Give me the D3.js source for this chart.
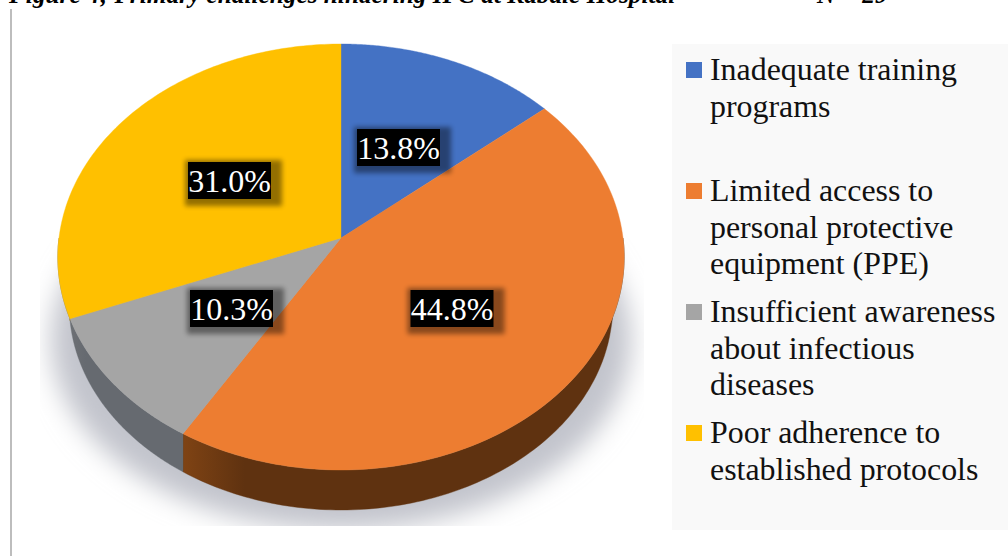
<!DOCTYPE html>
<html>
<head>
<meta charset="utf-8">
<script src="https://cdn.jsdelivr.net/npm/d3@7/dist/d3.min.js"></script>
<style>
html,body{margin:0;padding:0;background:#fff;overflow:hidden}
svg{display:block}
text{font-family:"Liberation Serif",serif}
</style>
</head>
<body>
<svg id="chart" width="1008" height="556"></svg>
<script>
// Share of respondents per challenge, clockwise from twelve o'clock
const categories = [
  ["Inadequate training", "programs"],
  ["Limited access to", "personal protective", "equipment (PPE)"],
  ["Insufficient awareness", "about infectious", "diseases"],
  ["Poor adherence to", "established protocols"]
];
const values = [13.8, 44.8, 10.3, 31.0];
const labels = ["13.8%", "44.8%", "10.3%", "31.0%"];
const topColors = ["#4472c4", "#ed7d31", "#a5a5a5", "#ffc000"];
const sideColors = [["#2a4478", "#2a4478"], ["#7f4314", "#5f3210"], ["#6d7075", "#666a70"], ["#8f7a10", "#9a7400"]];
const figureTitle = "Figure 4; Primary challenges hindering IPC at Kabale Hospital";
const sampleNote = "N = 29";

const svg = d3.select("#chart");
const defs = svg.append("defs");

// Perspective view of the pie disc: u runs right, v runs towards the back
const apex = {x: 341, y: 238};
const spreadX = 282, spreadY = 211.3, foreshorten = 0.0892;
function project(angle) {
  const u = Math.sin(angle), v = Math.cos(angle);
  const w = 1 + foreshorten * v;
  return [apex.x + spreadX * u / w, apex.y - spreadY * v / w];
}
// Lower rim of the disc, seen as a slightly smaller ellipse further down
const lowerRim = {cx: 341, cy: 305.5, rx: 271.7, ry: 204.5};
function lowerRimY(x, fallback) {
  const t = (x - lowerRim.cx) / lowerRim.rx;
  if (Math.abs(t) >= 1) return fallback;
  return Math.max(fallback, lowerRim.cy + lowerRim.ry * Math.sqrt(1 - t * t));
}
const sweep = (a0, a1) => d3.range(0, 121).map(i => a0 + (a1 - a0) * i / 120);
const outline = d3.line().curve(d3.curveLinear);

const arcs = d3.pie().sort(null).value(d => d).startAngle(0).endAngle(2 * Math.PI)(values);

// Soft floor shadow, cut off along the bottom and sides of its box
defs.append("filter").attr("id", "floorBlur")
  .attr("x", "-20%").attr("y", "-20%").attr("width", "140%").attr("height", "140%")
  .append("feGaussianBlur").attr("stdDeviation", 13);
defs.append("clipPath").attr("id", "floorClip").append("rect")
  .attr("x", 40).attr("y", 200).attr("width", 604).attr("height", 326);
svg.append("g").attr("clip-path", "url(#floorClip)")
  .append("ellipse")
  .attr("cx", 341).attr("cy", 340).attr("rx", 290).attr("ry", 190)
  .attr("fill", "#c2c4cc").attr("filter", "url(#floorBlur)");

// Panel behind the legend
svg.append("rect").attr("x", 672).attr("y", 44).attr("width", 336).attr("height", 486).attr("fill", "#f9f9f9");

// Rule along the left side and the clipped figure caption
svg.append("rect").attr("x", 10).attr("y", 9).attr("width", 2).attr("height", 547).attr("fill", "#bdbdbd");
svg.append("text").attr("x", 9).attr("y", 3)
  .attr("font-size", 25.3).attr("font-weight", "bold").attr("font-style", "italic").attr("fill", "#000")
  .text(figureTitle);
svg.append("text").attr("x", 817).attr("y", 3)
  .attr("font-size", 25.3).attr("font-weight", "bold").attr("font-style", "italic").attr("fill", "#000")
  .text(sampleNote);

// Side wall of the disc, one band per slice, limited to the front half of the rim
arcs.forEach((d, i) => {
  const a0 = Math.max(d.startAngle, Math.PI / 2), a1 = Math.min(d.endAngle, 3 * Math.PI / 2);
  if (a1 <= a0) return;
  const id = "wall" + i;
  const g = defs.append("linearGradient").attr("id", id);
  g.append("stop").attr("offset", 0).attr("stop-color", sideColors[i][0]);
  g.append("stop").attr("offset", 0.14).attr("stop-color", sideColors[i][1]);
  g.append("stop").attr("offset", 1).attr("stop-color", sideColors[i][1]);
  const rim = sweep(a0, a1).map(project);
  const pts = rim.concat(rim.slice().reverse().map(([x, y]) => [x, lowerRimY(x, y)]));
  svg.append("path").attr("d", outline(pts) + "Z")
    .attr("fill", `url(#${id})`).attr("stroke", sideColors[i][1]).attr("stroke-width", 0.4);
});

// Top face of each slice
arcs.forEach((d, i) => {
  const pts = [[apex.x, apex.y]].concat(sweep(d.startAngle, d.endAngle).map(project));
  svg.append("path").attr("d", outline(pts) + "Z")
    .attr("fill", topColors[i]).attr("stroke", topColors[i]).attr("stroke-width", 0.4);
});

// Value labels: white text on black boxes with a soft halo falling to the lower right
defs.append("filter").attr("id", "boxHalo")
  .attr("x", "-30%").attr("y", "-40%").attr("width", "160%").attr("height", "180%")
  .append("feGaussianBlur").attr("stdDeviation", 2.5);
const labelCenter = [[398.5, 147.5], [452, 308.5], [231.5, 308.5], [229.5, 180.5]];
labels.forEach((t, i) => {
  const [cx, cy] = labelCenter[i];
  const bw = 83, bh = 37;
  svg.append("rect").attr("x", cx - bw / 2 - 3).attr("y", cy - bh / 2 - 2)
    .attr("width", bw + 14).attr("height", bh + 9)
    .attr("fill", "#000").attr("opacity", 0.42).attr("filter", "url(#boxHalo)");
  svg.append("rect").attr("x", cx - bw / 2).attr("y", cy - bh / 2)
    .attr("width", bw).attr("height", bh).attr("fill", "#000");
  svg.append("text").attr("x", cx).attr("y", cy + 11)
    .attr("text-anchor", "middle").attr("font-size", 32).attr("fill", "#fff")
    .text(t);
});

// Legend entries
const legendFirstLine = [80, 201, 322, 443];
const lineStep = 36.5;
categories.forEach((lines, i) => {
  svg.append("rect").attr("x", 686).attr("y", legendFirstLine[i] - 18)
    .attr("width", 16).attr("height", 16).attr("fill", topColors[i]);
  const text = svg.append("text").attr("font-size", 31.9).attr("fill", "#111");
  lines.forEach((line, j) => {
    text.append("tspan").attr("x", 710).attr("y", legendFirstLine[i] + j * lineStep).text(line);
  });
});
</script>
</body>
</html>
